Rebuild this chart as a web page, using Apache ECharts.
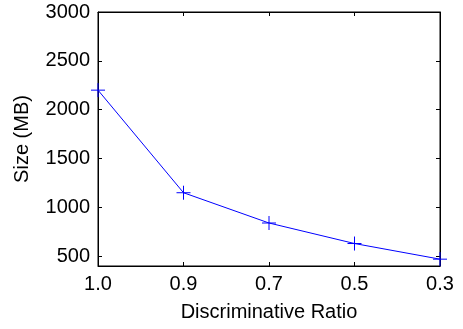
<!DOCTYPE html>
<html><head><meta charset="utf-8">
<script src="https://cdn.jsdelivr.net/npm/echarts@6/dist/echarts.min.js"></script>
<style>html,body{margin:0;padding:0;background:#fff}#c{width:463px;height:329px}</style>
</head><body><div id="c"></div>
<script>
const categories = ['1.0', '0.9', '0.7', '0.5', '0.3'];
const sizes = [2200, 1150, 840, 630, 470];
const yTicks = [500, 1000, 1500, 2000, 2500, 3000];
const xTitle = 'Discriminative Ratio';
const yTitle = 'Size (MB)';

const font = 'Liberation Sans, Arial, Helvetica, sans-serif';
const chart = echarts.init(document.getElementById('c'), null, {renderer: 'canvas'});
const lineStyle = {color: '#000', width: 1};
chart.setOption({
  animation: false,
  grid: {left: 98, right: 23, top: 12, bottom: 63, show: true, borderColor: '#000', borderWidth: 1, backgroundColor: 'transparent'},
  xAxis: [{
    type: 'category', data: categories, boundaryGap: false,
    axisLine: {lineStyle: lineStyle},
    axisTick: {inside: true, length: 4, lineStyle: lineStyle},
    axisLabel: {color: '#000', fontFamily: font, fontSize: 20, margin: 8},
    name: xTitle, nameLocation: 'middle', nameGap: 36,
    nameTextStyle: {color: '#000', fontFamily: font, fontSize: 20},
    splitLine: {show: false}
  }, {
    type: 'category', data: categories, boundaryGap: false, position: 'top',
    axisLine: {lineStyle: lineStyle},
    axisTick: {inside: true, length: 4, lineStyle: lineStyle},
    axisLabel: {show: false}, splitLine: {show: false}
  }],
  yAxis: [{
    type: 'value', min: 400, max: 3000,
    axisLine: {show: true, lineStyle: lineStyle},
    axisTick: {show: true, inside: true, length: 4, lineStyle: lineStyle, customValues: yTicks},
    axisLabel: {color: '#000', fontFamily: font, fontSize: 20, margin: 8, customValues: yTicks,
      formatter: function (v) { return String(v); }},
    name: yTitle, nameLocation: 'middle', nameGap: 66,
    nameTextStyle: {color: '#000', fontFamily: font, fontSize: 20},
    splitLine: {show: false}
  }, {
    type: 'value', min: 400, max: 3000, position: 'right',
    axisLine: {show: true, lineStyle: lineStyle},
    axisTick: {show: true, inside: true, length: 4, lineStyle: lineStyle, customValues: yTicks},
    axisLabel: {show: false}, splitLine: {show: false}
  }],
  series: [{
    type: 'line', data: sizes, xAxisIndex: 0, yAxisIndex: 0,
    clip: false,
    lineStyle: {color: '#0000ff', width: 1},
    symbol: 'path://M0,-1L0,1M-1,0L1,0',
    symbolSize: 14,
    itemStyle: {color: 'none', borderColor: '#0000ff', borderWidth: 1}
  }]
});
</script></body></html>
